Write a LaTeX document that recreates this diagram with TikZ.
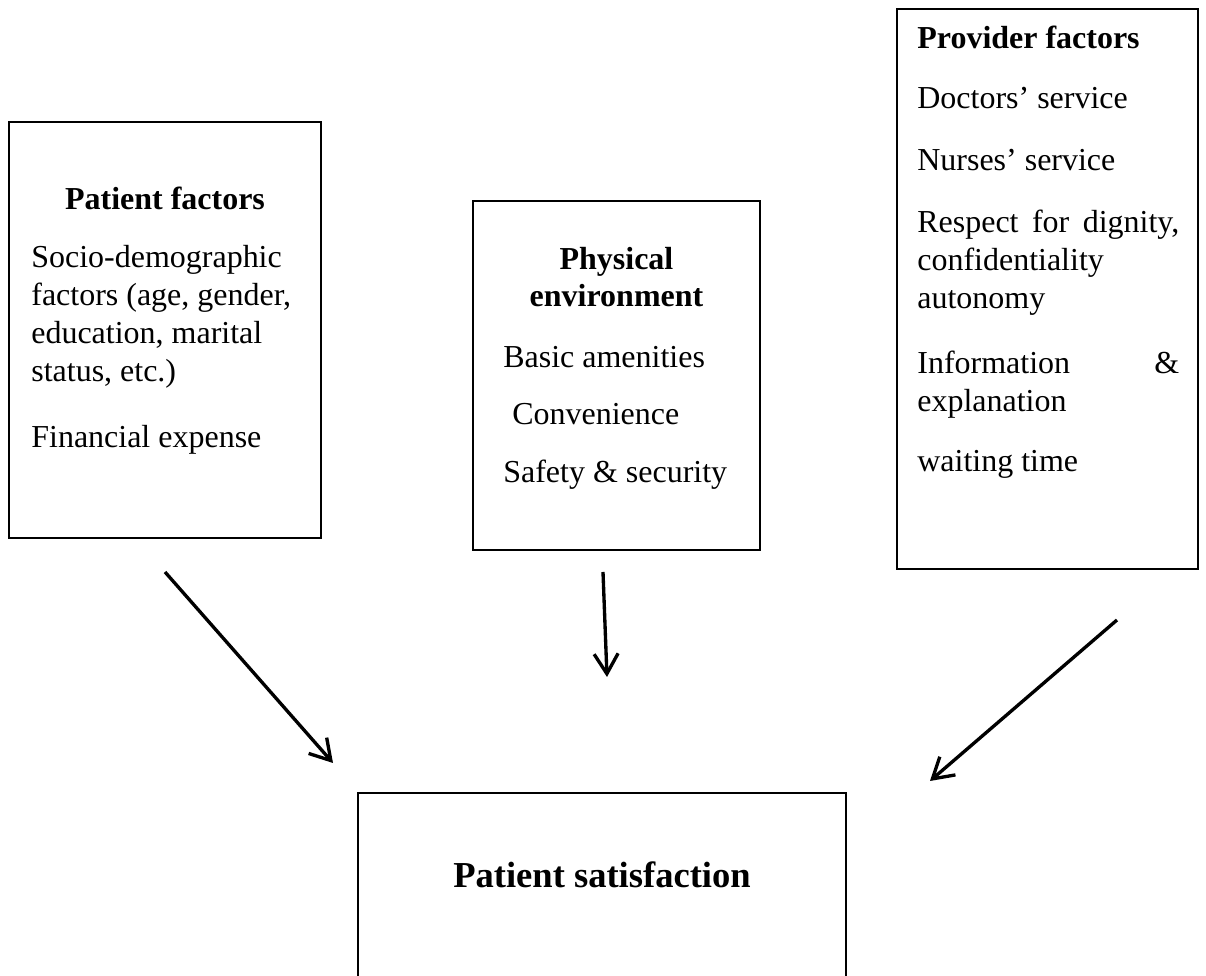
\documentclass[tikz,border=0pt]{standalone}
\usepackage{fontspec}
\setmainfont{Liberation Serif}
\usetikzlibrary{arrows.meta}

\begin{document}
\begin{tikzpicture}[
    >={Straight Barb[length=4mm, width=4.8mm]},
    factorbox/.style={draw, line width=1.5pt, inner sep=0pt},
    heading/.style={font=\fontsize{18.2pt}{21.6pt}\selectfont\bfseries, inner sep=0pt},
    items/.style={font=\fontsize{18.2pt}{21.6pt}\selectfont, align=left, anchor=north west, inner sep=0pt},
    link/.style={->, line width=1.9pt}
  ]
    \useasboundingbox (0, 0) rectangle (24.12, 19.52);
    \node[factorbox, minimum width=6.24cm, minimum height=8.32cm] (PF) at (3.30, 12.92){};
    \node[factorbox, minimum width=5.74cm, minimum height=6.98cm] (PE) at (12.33, 12.01){};
    \node[factorbox, minimum width=6.02cm, minimum height=11.20cm] (PrF) at (20.95, 13.74){};
    \node[factorbox, minimum width=9.76cm, minimum height=3.84cm] (PS) at (12.04, 1.74){};
    \node[heading, anchor=base] (PFt) at (3.30, 15.32){Patient factors};
    \node[items] (PFi) at (0.62, 14.62){Socio-demographic\\ factors (age, gender,\\ education, marital\\ status, etc.)\\[0.56cm] Financial expense};
    \node[heading, align=center, anchor=north] (PEt) at (12.33, 14.59){Physical\\ environment};
    \node[items] (PEi) at (10.06, 12.60){Basic amenities\\[0.39cm] \hspace{0.18cm}Convenience\\[0.39cm] Safety \& security};
    \node[items] (PrFi) at (18.34, 19.00){\textbf{Provider factors}\\[0.44cm] Doctors' service\\[0.48cm] Nurses' service\\[0.48cm] \makebox[5.24cm][s]{Respect for dignity,}\\ confidentiality\\ autonomy\\[0.54cm] \makebox[5.24cm][s]{Information \&}\\ explanation\\[0.44cm] waiting time};
    \node[heading, font=\fontsize{20.8pt}{25pt}\selectfont\bfseries, anchor=base] (PSt) at (12.04, 1.76){Patient satisfaction};
    \coordinate (PF1) at (3.30, 8.08);
    \coordinate (PS1) at (6.66, 4.26);
    \coordinate (PE1) at (12.06, 8.08);
    \coordinate (PS2) at (12.14, 5.98);
    \coordinate (PrF1) at (22.34, 7.12);
    \coordinate (PS3) at (18.60, 3.90);
    \draw[link] (PF1)--(PS1);
    \draw[link] (PE1)--(PS2);
    \draw[link] (PrF1)--(PS3);
  \end{tikzpicture}
\end{document}
